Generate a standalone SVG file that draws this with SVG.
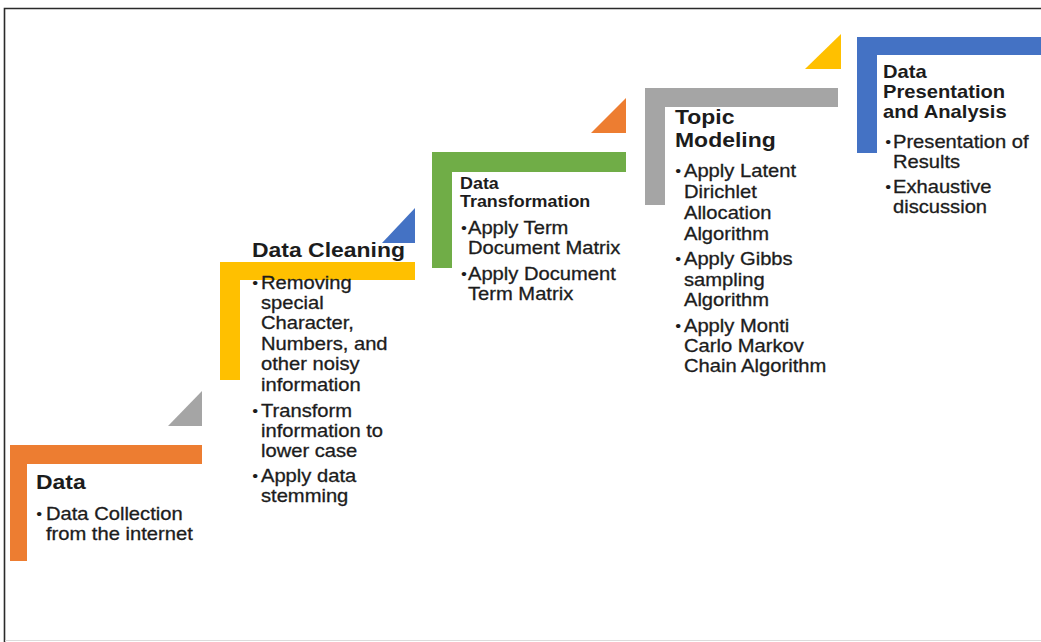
<svg xmlns="http://www.w3.org/2000/svg" width="1041" height="642" viewBox="0 0 1041 642">
<style>
text{font-family:"Liberation Sans",Arial,sans-serif;fill:#1c1c1c}
.h{font-weight:bold;font-size:20.5px}
.hs{font-weight:bold;font-size:16px}
.hm{font-weight:bold;font-size:18px}
.b{font-size:18px;stroke:#1c1c1c;stroke-width:0.3}
.d{font-size:15px}
.frame{fill:none;stroke:#2a2a2a;stroke-width:1.6}
</style>
<rect width="1041" height="642" fill="#ffffff"/>
<path class="frame" d="M4.5 642 V8.5 H1041"/>
<line x1="5" y1="640.5" x2="1041" y2="640.5" stroke="#dcdcdc" stroke-width="1"/>

<g id="connectors">
  <polygon points="168,426 202,426 202,391" fill="#A5A5A5"/>
  <polygon points="382,243 415,243 415,208" fill="#4472C4"/>
  <polygon points="591,133 626,133 626,98" fill="#ED7D31"/>
  <polygon points="805,69 841,69 841,34" fill="#FFC000"/>
</g>

<g id="node-data">
  <polygon points="10,445 202,445 202,464 27,464 27,561 10,561" fill="#ED7D31"/>
  <g transform="translate(36,0) scale(1.12,1)">
    <text class="h" x="0" y="489">Data</text>
    <text class="d" x="0.3" y="519">•</text>
    <text class="b" x="8.9" y="520">Data Collection</text>
    <text class="b" x="8.9" y="540">from the internet</text>
  </g>
</g>

<g id="node-cleaning">
  <polygon points="220,262 415,262 415,280 240,280 240,380 220,380" fill="#FFC000"/>
  <g transform="translate(252,0) scale(1.12,1)">
    <text class="h" x="0" y="257">Data Cleaning</text>
    <text class="d" x="0.3" y="288">•</text>
    <text class="b" x="8" y="289">Removing</text>
    <text class="b" x="8" y="309">special</text>
    <text class="b" x="8" y="329">Character,</text>
    <text class="b" x="8" y="350">Numbers, and</text>
    <text class="b" x="8" y="370">other noisy</text>
    <text class="b" x="8" y="391">information</text>
    <text class="d" x="0.3" y="416">•</text>
    <text class="b" x="8" y="417">Transform</text>
    <text class="b" x="8" y="437">information to</text>
    <text class="b" x="8" y="457">lower case</text>
    <text class="d" x="0.3" y="481">•</text>
    <text class="b" x="8" y="482">Apply data</text>
    <text class="b" x="8" y="502">stemming</text>
  </g>
</g>

<g id="node-transformation">
  <polygon points="432,152 626,152 626,172 452,172 452,268 432,268" fill="#70AD47"/>
  <g transform="translate(460,0) scale(1.12,1)">
    <text class="hs" x="0" y="189">Data</text>
    <text class="hs" x="0" y="207">Transformation</text>
    <text class="d" x="0.8" y="233">•</text>
    <text class="b" x="7.1" y="234">Apply Term</text>
    <text class="b" x="7.1" y="254">Document Matrix</text>
    <text class="d" x="0.8" y="279">•</text>
    <text class="b" x="7.1" y="280">Apply Document</text>
    <text class="b" x="7.1" y="300">Term Matrix</text>
  </g>
</g>

<g id="node-topic">
  <polygon points="645,88 838,88 838,107 665,107 665,205 645,205" fill="#A5A5A5"/>
  <g transform="translate(675,0) scale(1.12,1)">
    <text class="h" x="0" y="124">Topic</text>
    <text class="h" x="0" y="147">Modeling</text>
    <text class="d" x="0.3" y="176">•</text>
    <text class="b" x="8" y="177">Apply Latent</text>
    <text class="b" x="8" y="198">Dirichlet</text>
    <text class="b" x="8" y="219">Allocation</text>
    <text class="b" x="8" y="240">Algorithm</text>
    <text class="d" x="0.3" y="264">•</text>
    <text class="b" x="8" y="265">Apply Gibbs</text>
    <text class="b" x="8" y="286">sampling</text>
    <text class="b" x="8" y="306">Algorithm</text>
    <text class="d" x="0.3" y="331">•</text>
    <text class="b" x="8" y="332">Apply Monti</text>
    <text class="b" x="8" y="352">Carlo Markov</text>
    <text class="b" x="8" y="372">Chain Algorithm</text>
  </g>
</g>

<g id="node-presentation">
  <polygon points="857,37 1041,37 1041,55 877,55 877,153 857,153" fill="#4472C4"/>
  <g transform="translate(883,0) scale(1.12,1)">
    <text class="hm" x="0" y="78">Data</text>
    <text class="hm" x="0" y="98">Presentation</text>
    <text class="hm" x="0" y="118">and Analysis</text>
    <text class="d" x="2" y="147">•</text>
    <text class="b" x="8.9" y="148">Presentation of</text>
    <text class="b" x="8.9" y="168">Results</text>
    <text class="d" x="2" y="192">•</text>
    <text class="b" x="8.9" y="193">Exhaustive</text>
    <text class="b" x="8.9" y="213">discussion</text>
  </g>
</g>
</svg>
